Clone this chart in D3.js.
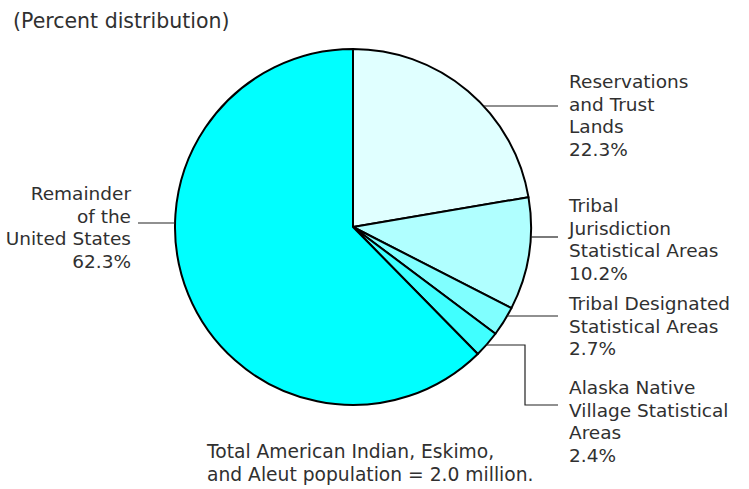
<!DOCTYPE html>
<html><head><meta charset="utf-8">
<script src="https://cdn.jsdelivr.net/npm/d3@7"></script>
<style>body{margin:0;background:#fff}svg{display:block}text{font-family:"DejaVu Sans",sans-serif;fill:#303030}</style>
</head><body><svg id="c" width="749" height="489"></svg>
<script>
const categories = ["Reservations and Trust Lands","Tribal Jurisdiction Statistical Areas","Tribal Designated Statistical Areas","Alaska Native Village Statistical Areas","Remainder of the United States"];
const values = [22.3, 10.2, 2.7, 2.4, 62.3];
const colors = ["#e0ffff","#b0ffff","#80ffff","#40ffff","#00ffff"];
const labelLines = [
  ["Reservations","and Trust","Lands","22.3%"],
  ["Tribal","Jurisdiction","Statistical Areas","10.2%"],
  ["Tribal Designated","Statistical Areas","2.7%"],
  ["Alaska Native","Village Statistical","Areas","2.4%"],
  ["Remainder","of the","United States","62.3%"]
];
const title = "(Percent distribution)";
const note = ["Total American Indian, Eskimo,","and Aleut population = 2.0 million."];

const svg = d3.select("#c");
const cx = 353, cy = 227, R = 178;
const pie = d3.pie().sort(null).value(d=>d)(values);
const arc = d3.arc().innerRadius(0).outerRadius(R);
const g = svg.append("g").attr("transform",`translate(${cx},${cy})`);
g.selectAll("path").data(pie).join("path")
  .attr("d",arc).attr("fill",(d,i)=>colors[i])
  .attr("stroke","#000").attr("stroke-width",2).attr("stroke-linejoin","round");

svg.append("text").attr("x",13).attr("y",28).attr("font-size",20.5).text(title);

const fs = 18.5, lh = 22.5;
const blocks = [
  [569, 88, "start"],
  [569, 212, "start"],
  [569, 310, "start"],
  [569, 394, "start"],
  [131, 200, "end"]
];
blocks.forEach((b,i)=>{
  const t = svg.append("text").attr("font-size",fs).attr("text-anchor",b[2]);
  labelLines[i].forEach((s,k)=>t.append("tspan").attr("x",b[0]).attr("y",b[1]+k*lh).text(s));
});

function ptAtY(y, right){ const dy=y-cy; const dx=Math.sqrt(R*R-dy*dy); return right?cx+dx:cx-dx; }
const leaders = svg.append("g").attr("fill","none").attr("stroke","#222").attr("stroke-width",1.2);
leaders.append("line").attr("x1",ptAtY(106,true)).attr("y1",106).attr("x2",558).attr("y2",106);
leaders.append("line").attr("x1",ptAtY(237,true)).attr("y1",237).attr("x2",558).attr("y2",237);
leaders.append("line").attr("x1",ptAtY(316,true)).attr("y1",316).attr("x2",558).attr("y2",316);
leaders.append("polyline").attr("points",`${ptAtY(345,true)},345 525,345 525,405 558,405`);
leaders.append("line").attr("x1",138).attr("y1",223).attr("x2",ptAtY(223,false)).attr("y2",223);

const nt = svg.append("text").attr("font-size",18.7);
note.forEach((s,k)=>nt.append("tspan").attr("x",207).attr("y",458+k*lh).text(s));
</script></body></html>
